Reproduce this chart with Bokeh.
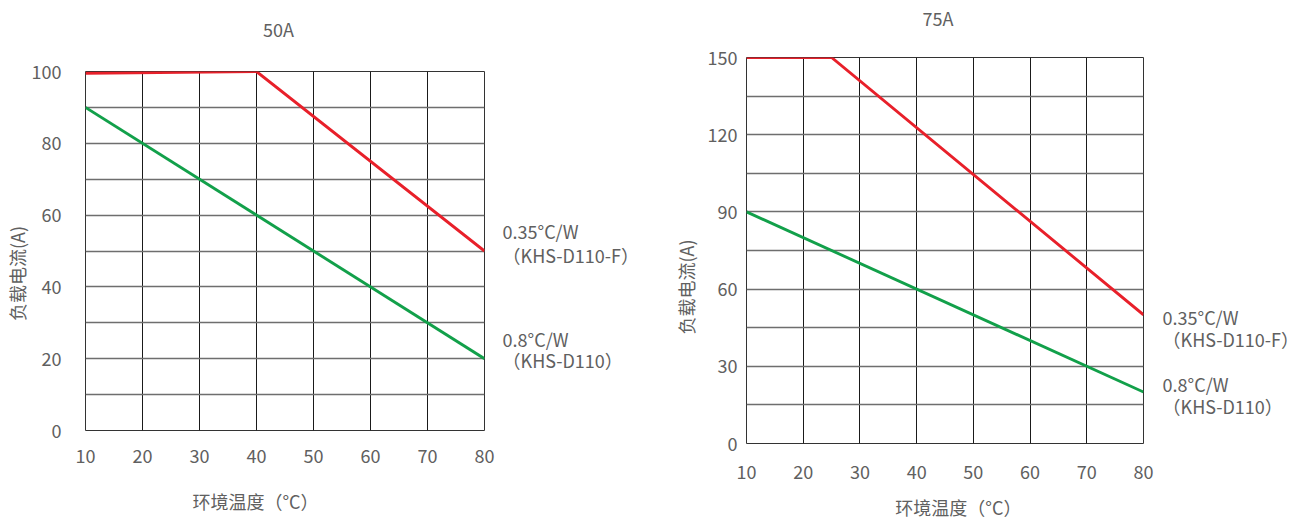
from bokeh.plotting import figure
from bokeh.layouts import row, column
from bokeh.models import FixedTicker, LinearAxis, Range1d
from bokeh.embed import file_html
from bokeh.resources import INLINE

# ---------------- data ----------------
temp_ticks = [10, 20, 30, 40, 50, 60, 70, 80]

c1_title = "50A"
c1_y_ticks = [0, 20, 40, 60, 80, 100]
c1_y_grid = [0, 10, 20, 30, 40, 50, 60, 70, 80, 90, 100]
c1_red_x = [10, 40, 80]
c1_red_y = [99.5, 100, 50]
c1_green_x = [10, 80]
c1_green_y = [90, 20]

c2_title = "75A"
c2_y_ticks = [0, 30, 60, 90, 120, 150]
c2_y_grid = [0, 15, 30, 45, 60, 75, 90, 105, 120, 135, 150]
c2_red_x = [10, 25, 80]
c2_red_y = [150, 150, 50]
c2_green_x = [10, 80]
c2_green_y = [90, 20]

red_name = ["0.35°C/W", "（KHS-D110-F）"]
green_name = ["0.8°C/W", "（KHS-D110）"]
x_label = "环境温度（°C）"
y_label = "负载电流(A)"

FONT = "Noto Sans CJK SC"
TXT = "#606060"
RED = "#e8202a"
GREEN = "#12a04a"
FS = "18px"


def style_axis(ax, standoff):
    ax.axis_line_color = None
    ax.major_tick_line_color = None
    ax.minor_tick_line_color = None
    ax.major_tick_out = 0
    ax.major_tick_in = 0
    ax.minor_tick_out = 0
    ax.minor_tick_in = 0
    ax.major_label_text_font = FONT
    ax.major_label_text_font_size = FS
    ax.major_label_text_color = TXT
    ax.major_label_standoff = standoff


def text_axis(p, side, labels, standoff, orientation="horizontal"):
    """An axis used only to place texts beside the plot frame."""
    ticks = list(labels.keys())
    ax = LinearAxis(ticker=FixedTicker(ticks=ticks, minor_ticks=[]),
                    major_label_overrides=labels,
                    major_label_orientation=orientation)
    style_axis(ax, standoff)
    p.add_layout(ax, side)
    return ax


def make(width, height, borders, ymax, yticks, ygrid, rx, ry, gx, gy,
         title, cfg):
    left, right, top, bottom = borders
    p = figure(width=width, height=height, output_backend="svg",
               toolbar_location=None, x_range=Range1d(10, 80),
               y_range=Range1d(0, ymax),
               min_border_left=left, min_border_right=right,
               min_border_top=top, min_border_bottom=bottom)
    p.background_fill_color = "white"
    p.border_fill_color = "white"
    p.outline_line_color = "#333333"
    p.outline_line_width = 1

    frame_w = width - left - right
    frame_h = height - top - bottom
    ppx = frame_w / (80 - 10)
    ppy = frame_h / ymax
    xc = 45
    yc = ymax / 2

    style_axis(p.xaxis[0], cfg["xtick_standoff"])
    style_axis(p.yaxis[0], cfg["ytick_standoff"])
    p.xaxis[0].ticker = FixedTicker(ticks=temp_ticks, minor_ticks=[])
    p.yaxis[0].ticker = FixedTicker(ticks=yticks, minor_ticks=[])

    # series notes on the right, next to each line's end
    notes = {}
    for name, yend, offs in ((red_name, ry[-1], cfg["red_notes"]),
                             (green_name, gy[-1], cfg["green_notes"])):
        for txt, dpx in zip(name, offs):
            notes[round(yend + dpx / ppy, 3)] = txt
    text_axis(p, "right", notes, cfg["note_standoff"])

    # title, x-axis title, y-axis title
    text_axis(p, "above", {round(xc + cfg["title_dx"] / ppx, 3): title},
              cfg["title_standoff"])
    text_axis(p, "below", {round(xc + cfg["xl_dx"] / ppx, 3): x_label},
              cfg["xl_standoff"])
    text_axis(p, "left", {round(yc - cfg["yl_dy"] / ppy, 3): y_label},
              cfg["yl_standoff"], orientation="parallel")

    p.xgrid.ticker = FixedTicker(ticks=temp_ticks, minor_ticks=[])
    p.ygrid.ticker = FixedTicker(ticks=ygrid, minor_ticks=[])
    p.xgrid.grid_line_color = "#1a1a1a"
    p.xgrid.grid_line_width = 1
    p.ygrid.grid_line_color = "#6e6e6e"
    p.ygrid.grid_line_width = 1.5

    p.line(rx, ry, line_color=RED, line_width=2.9)
    p.line(gx, gy, line_color=GREEN, line_width=2.9)
    return p


# ---------- chart 1 ----------
p1 = make(650, 522, (85, 166, 71, 92), 100, c1_y_ticks, c1_y_grid,
          c1_red_x, c1_red_y, c1_green_x, c1_green_y, c1_title,
          dict(xtick_standoff=18, ytick_standoff=24,
               red_notes=[19.5, -4.2], green_notes=[20, -1.6],
               note_standoff=18, title_dx=-6.5, title_standoff=30,
               xl_dx=-29.5, xl_standoff=22, yl_dy=22.5, yl_standoff=-2))

# ---------- chart 2 ----------
p2 = make(652, 522, (96, 157, 57, 78), 150, c2_y_ticks, c2_y_grid,
          c2_red_x, c2_red_y, c2_green_x, c2_green_y, c2_title,
          dict(xtick_standoff=21, ytick_standoff=9,
               red_notes=[-2.3, -24.7], green_notes=[7.7, -14],
               note_standoff=19, title_dx=-7, title_standoff=27,
               xl_dx=13.5, xl_standoff=12, yl_dy=36.5, yl_standoff=5))

layout = row(column(p1), column(p2), spacing=0)
open("out.html", "w").write(file_html(layout, INLINE))
